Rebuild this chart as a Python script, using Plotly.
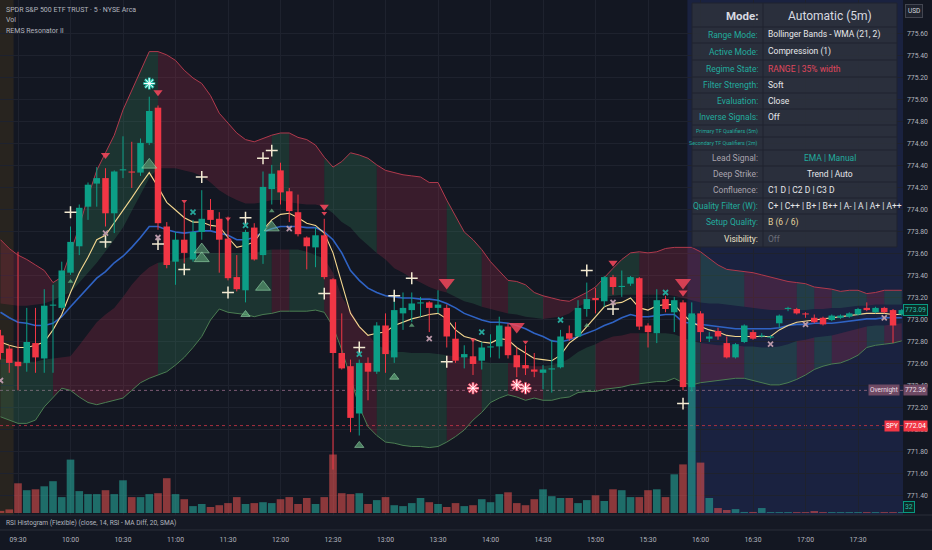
import pandas as pd
import plotly.graph_objects as go

# SPY 5-minute bars, 09:20 .. 17:55 (first two bars are pre-market)
open_ = [
    772.86, 772.74, 772.62, 772.61, 772.79, 772.65, 773.13, 773.11, 773.43, 773.67,
    774.03, 774.24, 774.29, 773.97, 774.36, 774.35, 774.34, 774.61, 774.93, 773.85,
    773.53, 773.73, 773.55, 773.80, 774.00, 773.92, 773.74, 773.39, 773.27, 773.84,
    773.59, 774.19, 774.36, 774.17, 773.98, 773.75, 773.66, 773.77, 773.37, 772.70,
    772.58, 772.15, 772.61, 772.53, 772.95, 772.66, 773.06, 773.09, 773.15, 773.16,
    773.11, 773.11, 772.83, 772.66, 772.67, 772.63, 772.75, 772.76, 772.94, 772.68,
    772.59, 772.55, 772.52, 772.55, 772.57, 772.88, 772.85, 773.10, 773.20, 773.17,
    773.39, 773.30, 773.33, 773.38, 772.95, 772.88, 773.19, 773.07, 773.16, 772.39,
    773.06, 772.83, 772.90, 772.79, 772.66, 772.80, 772.89, 772.85, 772.84, 772.97,
    773.10, 773.10, 773.06, 773.02, 773.02, 773.00, 773.02, 773.03, 773.05, 773.11,
    773.07, 773.11, 773.09, 773.05,
]
high = [
    772.91, 772.77, 773.62, 773.11, 773.11, 773.28, 773.32, 773.53, 773.85, 774.05,
    774.25, 774.39, 774.38, 774.36, 774.67, 774.62, 774.65, 775.03, 774.95, 773.89,
    773.80, 774.06, 773.91, 774.18, 774.10, 773.98, 773.94, 773.59, 773.82, 773.88,
    774.35, 774.41, 774.43, 774.20, 774.14, 773.76, 773.84, 773.92, 773.38, 773.06,
    772.64, 772.64, 772.66, 772.98, 773.06, 773.25, 773.25, 773.25, 773.21, 773.17,
    773.27, 773.14, 772.98, 772.77, 772.82, 772.80, 772.87, 773.03, 772.97, 772.75,
    772.77, 772.70, 772.59, 772.82, 772.91, 772.95, 773.18, 773.34, 773.29, 773.40,
    773.41, 773.45, 773.40, 773.39, 772.97, 773.28, 773.22, 773.21, 773.18, 773.16,
    773.08, 772.89, 772.93, 772.85, 772.79, 772.96, 772.91, 772.88, 772.86, 773.05,
    773.12, 773.11, 773.07, 773.05, 773.03, 773.05, 773.05, 773.07, 773.11, 773.16,
    773.12, 773.12, 773.10, 773.10,
]
low = [
    772.64, 772.52, 772.36, 772.53, 772.52, 772.52, 772.52, 773.09, 773.41, 773.59,
    773.91, 774.03, 773.85, 773.79, 774.29, 774.20, 774.31, 774.59, 773.82, 773.47,
    773.32, 773.52, 773.53, 773.73, 773.82, 773.43, 773.36, 773.26, 773.16, 773.54,
    773.51, 774.05, 774.05, 773.89, 773.76, 773.46, 773.48, 773.37, 771.64, 772.55,
    771.98, 771.95, 772.27, 772.51, 772.52, 772.61, 772.91, 772.98, 773.03, 772.89,
    773.06, 772.75, 772.61, 772.56, 772.50, 772.55, 772.66, 772.65, 772.65, 772.48,
    772.50, 772.48, 772.37, 772.34, 772.56, 772.81, 772.85, 773.03, 773.06, 773.12,
    773.23, 773.21, 773.31, 772.91, 772.75, 772.79, 773.07, 772.89, 772.36, 772.35,
    772.80, 772.80, 772.82, 772.65, 772.65, 772.79, 772.82, 772.84, 772.83, 772.93,
    773.08, 773.05, 773.02, 772.97, 772.95, 772.99, 773.01, 773.02, 773.04, 773.08,
    773.06, 773.06, 772.79, 773.04,
]
close = [
    772.70, 772.61, 772.58, 772.80, 772.66, 773.13, 773.14, 773.45, 773.71, 774.02,
    774.23, 774.29, 773.97, 774.35, 774.37, 774.34, 774.61, 774.90, 773.88, 773.50,
    773.73, 773.61, 773.80, 773.92, 773.91, 773.73, 773.38, 773.28, 773.80, 773.55,
    774.21, 774.33, 774.16, 773.99, 773.78, 773.67, 773.77, 773.39, 772.70, 772.56,
    772.11, 772.61, 772.53, 772.95, 772.69, 773.09, 773.11, 773.15, 773.16, 773.11,
    773.14, 772.85, 772.63, 772.69, 772.60, 772.75, 772.76, 772.95, 772.68, 772.57,
    772.56, 772.53, 772.55, 772.56, 772.85, 772.83, 773.11, 773.19, 773.18, 773.39,
    773.30, 773.31, 773.39, 772.94, 772.89, 773.18, 773.10, 773.18, 772.39, 773.06,
    772.89, 772.85, 772.85, 772.66, 772.78, 772.95, 772.83, 772.86, 772.85, 773.04,
    773.11, 773.06, 773.05, 772.98, 772.96, 773.04, 773.04, 773.06, 773.10, 773.09,
    773.11, 773.07, 772.95, 773.09,
]
volume = [
    70, 120, 990, 760, 790, 890, 1060, 530, 1780, 730,
    630, 630, 760, 630, 1090, 530, 530, 630, 660, 1160,
    630, 460, 230, 300, 200, 260, 330, 530, 300, 330,
    360, 330, 460, 530, 300, 500, 300, 530, 1950, 660,
    630, 660, 300, 430, 530, 260, 230, 330, 500, 360,
    300, 200, 330, 230, 260, 460, 360, 630, 690, 330,
    260, 460, 790, 560, 500, 500, 330, 430, 590, 400,
    790, 760, 530, 530, 760, 790, 530, 1290, 1620, 6600,
    1680, 500, 165, 100, 130, 35, 35, 165, 30, 30,
    30, 30, 30, 65, 30, 30, 30, 30, 30, 30,
    30, 30, 30, 32,
]

# Bollinger Bands (WMA 21, 2) and the inner compression channel
bb_upper = [
    773.73, 773.65, 773.59, 773.55, 773.50, 773.45, 773.34, 773.39, 773.61, 773.85,
    774.12, 774.36, 774.52, 774.68, 774.91, 775.09, 775.27, 775.44, 775.44, 775.41,
    775.36, 775.27, 775.20, 775.15, 775.04, 774.88, 774.79, 774.70, 774.64, 774.62,
    774.65, 774.68, 774.70, 774.70, 774.66, 774.64, 774.59, 774.48, 774.39, 774.44,
    774.52, 774.50, 774.47, 774.41, 774.36, 774.34, 774.32, 774.31, 774.30, 774.25,
    774.25, 774.09, 773.94, 773.80, 773.73, 773.64, 773.53, 773.44, 773.36, 773.35,
    773.32, 773.25, 773.22, 773.20, 773.18, 773.17, 773.21, 773.25, 773.30, 773.39,
    773.47, 773.55, 773.61, 773.62, 773.61, 773.62, 773.65, 773.66, 773.66, 773.66,
    773.62, 773.56, 773.50, 773.46, 773.45, 773.44, 773.43, 773.41, 773.39, 773.37,
    773.35, 773.34, 773.33, 773.30, 773.29, 773.28, 773.26, 773.27, 773.27, 773.24,
    773.25, 773.27, 773.27, 773.27,
]
bb_lower = [
    772.12, 772.09, 772.06, 772.06, 772.09, 772.21, 772.30, 772.38, 772.36, 772.30,
    772.25, 772.23, 772.25, 772.27, 772.29, 772.36, 772.43, 772.47, 772.50, 772.53,
    772.59, 772.66, 772.75, 772.85, 773.00, 773.10, 773.07, 773.06, 773.05, 773.03,
    773.05, 773.06, 773.08, 773.08, 773.08, 773.08, 773.09, 773.07, 772.94, 772.73,
    772.48, 772.21, 772.03, 771.95, 771.89, 771.88, 771.86, 771.85, 771.85, 771.84,
    771.85, 771.89, 771.94, 772.00, 772.09, 772.16, 772.25, 772.29, 772.32, 772.30,
    772.27, 772.29, 772.27, 772.27, 772.29, 772.30, 772.34, 772.35, 772.35, 772.37,
    772.38, 772.39, 772.41, 772.42, 772.43, 772.44, 772.44, 772.47, 772.43, 772.41,
    772.43, 772.44, 772.45, 772.46, 772.47, 772.47, 772.45, 772.43, 772.41, 772.41,
    772.43, 772.46, 772.50, 772.55, 772.58, 772.60, 772.61, 772.64, 772.68, 772.75,
    772.77, 772.78, 772.79, 772.81,
]
inner_upper = [
    773.15, 773.14, 773.13, 773.13, 773.14, 773.15, 773.18, 773.22, 773.25, 773.34,
    773.43, 773.52, 773.62, 773.73, 773.84, 774.00, 774.14, 774.29, 774.38, 774.38,
    774.38, 774.36, 774.34, 774.31, 774.25, 774.18, 774.13, 774.09, 774.06, 774.06,
    774.07, 774.09, 774.09, 774.07, 774.06, 774.05, 774.05, 774.03, 773.97, 773.89,
    773.84, 773.75, 773.68, 773.61, 773.55, 773.47, 773.43, 773.38, 773.34, 773.30,
    773.27, 773.25, 773.21, 773.17, 773.15, 773.12, 773.10, 773.08, 773.06, 773.05,
    773.03, 773.02, 773.01, 773.02, 773.03, 773.06, 773.12, 773.16, 773.19, 773.21,
    773.22, 773.23, 773.23, 773.23, 773.23, 773.23, 773.23, 773.22, 773.20, 773.18,
    773.16, 773.15, 773.15, 773.14, 773.13, 773.12, 773.11, 773.10, 773.09, 773.09,
    773.09, 773.09, 773.09, 773.10, 773.10, 773.11, 773.11, 773.12, 773.13, 773.13,
    773.14, 773.14, 773.14, 773.14,
]
inner_lower = [
    772.65, 772.64, 772.62, 772.62, 772.62, 772.64, 772.65, 772.66, 772.67, 772.77,
    772.88, 772.98, 773.05, 773.11, 773.21, 773.32, 773.41, 773.48, 773.52, 773.53,
    773.55, 773.56, 773.58, 773.60, 773.61, 773.61, 773.61, 773.61, 773.61, 773.61,
    773.63, 773.64, 773.64, 773.64, 773.64, 773.62, 773.59, 773.56, 773.43, 773.21,
    773.09, 772.95, 772.87, 772.77, 772.74, 772.71, 772.71, 772.70, 772.70, 772.70,
    772.69, 772.68, 772.67, 772.66, 772.64, 772.62, 772.61, 772.61, 772.61, 772.60,
    772.59, 772.58, 772.58, 772.59, 772.61, 772.65, 772.71, 772.75, 772.78, 772.82,
    772.85, 772.86, 772.88, 772.88, 772.88, 772.88, 772.88, 772.87, 772.84, 772.81,
    772.79, 772.78, 772.77, 772.77, 772.77, 772.76, 772.76, 772.75, 772.75, 772.76,
    772.78, 772.81, 772.82, 772.84, 772.85, 772.86, 772.88, 772.90, 772.92, 772.94,
    772.95, 772.95, 772.96, 772.97,
]
wma_line = [
    773.07, 773.02, 772.98, 772.97, 772.95, 772.95, 772.97, 773.03, 773.12, 773.21,
    773.30, 773.38, 773.44, 773.52, 773.58, 773.66, 773.75, 773.85, 773.85, 773.82,
    773.80, 773.79, 773.80, 773.81, 773.81, 773.79, 773.77, 773.73, 773.73, 773.75,
    773.80, 773.83, 773.85, 773.85, 773.85, 773.84, 773.84, 773.80, 773.73, 773.61,
    773.45, 773.36, 773.29, 773.25, 773.22, 773.21, 773.20, 773.20, 773.19, 773.19,
    773.18, 773.15, 773.11, 773.06, 773.03, 773.00, 772.98, 772.98, 772.97, 772.95,
    772.92, 772.88, 772.85, 772.81, 772.80, 772.82, 772.85, 772.88, 772.91, 772.95,
    772.98, 773.02, 773.05, 773.03, 773.03, 773.04, 773.05, 773.05, 772.98, 772.97,
    772.96, 772.95, 772.94, 772.93, 772.92, 772.92, 772.92, 772.92, 772.92, 772.93,
    772.95, 772.96, 772.96, 772.97, 772.97, 772.97, 772.98, 772.99, 773.00, 773.01,
    773.01, 773.02, 773.02, 773.02,
]
ema_line = [
    772.80, 772.77, 772.75, 772.75, 772.77, 772.80, 772.91, 773.05, 773.25, 773.43,
    773.57, 773.73, 773.77, 773.88, 773.99, 774.11, 774.23, 774.34, 774.21, 774.07,
    774.00, 773.93, 773.89, 773.89, 773.86, 773.85, 773.75, 773.66, 773.68, 773.71,
    773.82, 773.91, 773.96, 773.97, 773.93, 773.88, 773.86, 773.79, 773.61, 773.34,
    773.06, 772.94, 772.86, 772.88, 772.89, 772.95, 772.98, 773.01, 773.03, 773.05,
    773.06, 773.01, 772.91, 772.85, 772.83, 772.80, 772.79, 772.83, 772.82, 772.75,
    772.70, 772.65, 772.64, 772.63, 772.68, 772.79, 772.85, 772.94, 773.03, 773.12,
    773.15, 773.16, 773.20, 773.11, 773.09, 773.13, 773.14, 773.14, 773.05, 772.98,
    772.94, 772.91, 772.89, 772.86, 772.85, 772.85, 772.85, 772.85, 772.85, 772.91,
    772.95, 772.98, 772.99, 773.00, 773.01, 773.02, 773.03, 773.04, 773.05, 773.06,
    773.06, 773.06, 773.05, 773.05,
]
# 1 = green above / red below, 0 = red above / green below (segment ending at bar)
regime = [
    0, 0, 0, 0, 0, 0, 0, 1, 1, 1,
    1, 1, 1, 1, 1, 1, 1, 1, 1, 0,
    0, 0, 0, 0, 0, 0, 0, 0, 0, 0,
    0, 0, 1, 1, 0, 0, 0, 0, 1, 1,
    1, 1, 1, 1, 0, 0, 0, 0, 0, 0,
    0, 0, 1, 1, 1, 1, 0, 0, 0, 1,
    1, 1, 1, 0, 0, 0, 0, 0, 0, 1,
    1, 1, 1, 1, 0, 0, 0, 0, 0, 0,
    0, 1, 1, 1, 1, 1, 0, 0, 0, 0,
    0, 0, 1, 1, 0, 0, 1, 1, 1, 1,
    0, 0, 1, 1,
]

# signal markers (bar time, price)
cross_time = ["10:00", "10:20", "10:50", "11:05", "11:15", "11:30", "11:40", "11:50", "11:55",
              "12:25", "12:45", "13:05", "13:15", "13:35", "14:55", "15:10", "15:50"]
cross_price = [773.98, 773.71, 773.69, 773.46, 774.30, 773.25, 773.93, 774.47, 774.54,
               773.24, 772.75, 773.22, 773.38, 772.62, 773.45, 773.10, 772.24]
xmark_time = ["09:20", "10:20", "10:50", "12:05", "13:25", "15:10", "16:40", "17:00", "17:45"]
xmark_price = [772.45, 773.79, 773.75, 773.83, 772.83, 773.16, 772.78, 772.96, 773.02]
xteal_time = ["11:10", "11:40", "12:45", "13:55", "14:40", "15:40"]
xteal_price = [773.98, 773.86, 772.69, 772.89, 773.00, 773.25]
sell_major_time = ["13:35", "14:15", "15:50"]
sell_major_price = [773.34, 772.94, 773.34]
sell_time = ["10:20", "10:50", "12:25", "15:10", "15:50"]
sell_price = [774.50, 775.07, 774.03, 773.52, 773.25]
sell_minor_time = ["11:05", "11:30", "12:25", "13:50", "14:20"]
sell_minor_price = [774.08, 773.92, 773.97, 772.82, 772.80]
buy_major_time = ["10:45", "11:15", "11:15", "11:50", "11:55"]
buy_major_price = [774.41, 773.64, 773.56, 773.30, 773.84]
buy_time = ["11:40", "12:45", "13:05"]
buy_price = [773.05, 771.86, 772.48]
buy_minor_time = ["10:00", "11:55", "13:15", "14:55"]
buy_minor_price = [773.35, 773.99, 772.95, 772.95]
star_up_time = ["10:45"]
star_up_price = [775.15]
star_dn_time = ["13:50", "14:15", "14:20"]
star_dn_price = [772.38, 772.41, 772.38]

overnight_level = 772.36
spy_level = 772.04
price_ticks = [round(771.4 + 0.2 * i, 2) for i in range(22)]

DAY = "2025-01-02"
FONT = "Roboto, sans-serif"
BG = "#131722"
GRID = "#1e222e"
UP = "#0c9e86"
DOWN = "#f23645"
GREEN_FILL = "rgba(67,160,110,0.21)"
RED_FILL = "rgba(195,48,80,0.22)"

W, PLOT_W, PLOT_H = 932, 903, 530
PANE_BOTTOM = 15 / PLOT_H


def at(hhmm):
    return pd.Timestamp(f"{DAY} {hhmm}")


def px(x):
    return x / PLOT_W


def py(y):
    return 1 - y / PLOT_H


times = pd.date_range(at("09:20"), periods=len(close), freq="5min")
bar = pd.Timedelta(minutes=5)
x_left = at("09:30") - 2.057 * bar
x_right = at("09:30") + 101.14 * bar

fig = go.Figure()

# volume (base axis, drawn under the price overlay)
fig.add_trace(go.Bar(
    x=times, y=volume, yaxis="y", width=0.87 * 300000,
    marker=dict(color=["rgba(38,166,154,0.6)" if c >= o else "rgba(239,83,80,0.55)"
                       for o, c in zip(open_, close)], line=dict(width=0)),
    hoverinfo="skip",
))

# band zones coloured by regime
start = 1
for i in range(2, len(regime) + 1):
    if i == len(regime) or regime[i] != regime[start]:
        idx = list(range(start - 1, i))
        xs = [times[j] for j in idx]
        up_col = GREEN_FILL if regime[start] else RED_FILL
        lo_col = RED_FILL if regime[start] else GREEN_FILL
        fig.add_trace(go.Scatter(
            x=xs + xs[::-1], y=[bb_upper[j] for j in idx] + [inner_upper[j] for j in idx][::-1],
            yaxis="y2", mode="lines", line=dict(width=0), fill="toself", fillcolor=up_col,
            hoverinfo="skip"))
        fig.add_trace(go.Scatter(
            x=xs + xs[::-1], y=[inner_lower[j] for j in idx] + [bb_lower[j] for j in idx][::-1],
            yaxis="y2", mode="lines", line=dict(width=0), fill="toself", fillcolor=lo_col,
            hoverinfo="skip"))
        start = i

fig.add_trace(go.Scatter(x=times, y=bb_upper, yaxis="y2", mode="lines",
                         line=dict(color="#b0394c", width=1), hoverinfo="skip"))
fig.add_trace(go.Scatter(x=times, y=bb_lower, yaxis="y2", mode="lines",
                         line=dict(color="#4b7d52", width=1), hoverinfo="skip"))
fig.add_trace(go.Scatter(x=times, y=wma_line, yaxis="y2", mode="lines",
                         line=dict(color="#2f63c4", width=1.6), hoverinfo="skip"))
fig.add_trace(go.Scatter(x=times, y=ema_line, yaxis="y2", mode="lines",
                         line=dict(color="#f5d890", width=1.1), hoverinfo="skip"))

# candles: wicks then bodies
for is_up, col in [(True, UP), (False, DOWN)]:
    wx, wy, bx, by = [], [], [], []
    for t, o, h, l, c in zip(times, open_, high, low, close):
        if (c >= o) != is_up:
            continue
        wx += [t, t, None]
        wy += [l, h, None]
        lo_b, hi_b = min(o, c), max(o, c)
        if hi_b - lo_b < 0.01:
            mid = (hi_b + lo_b) / 2
            lo_b, hi_b = mid - 0.005, mid + 0.005
        bx += [t, t, None]
        by += [lo_b, hi_b, None]
    fig.add_trace(go.Scatter(x=wx, y=wy, yaxis="y2", mode="lines",
                             line=dict(color=col, width=1), hoverinfo="skip"))
    fig.add_trace(go.Scatter(x=bx, y=by, yaxis="y2", mode="lines",
                             line=dict(color=col, width=6.5), hoverinfo="skip"))


def marks(tlist, plist, symbol, size, color, lw=0, lcol=None):
    fig.add_trace(go.Scatter(
        x=[at(t) for t in tlist], y=plist, yaxis="y2", mode="markers",
        marker=dict(symbol=symbol, size=size, color=color,
                    line=dict(width=lw, color=lcol or color)),
        hoverinfo="skip"))


marks(buy_major_time, buy_major_price, "triangle-up", 13, "rgba(110,190,135,0.5)", 1, "rgba(150,215,170,0.6)")
marks(buy_time, buy_price, "triangle-up", 8, "rgba(110,190,135,0.6)", 1, "rgba(150,215,170,0.6)")
marks(buy_minor_time, buy_minor_price, "triangle-up", 5, "rgba(110,190,135,0.7)")
marks(sell_major_time, sell_major_price, "triangle-down", 14, "rgba(240,70,90,0.85)")
marks(sell_time, sell_price, "triangle-down", 8, "rgba(240,70,90,0.9)")
marks(sell_minor_time, sell_minor_price, "triangle-down", 5, "rgba(240,70,90,0.9)")
marks(cross_time, cross_price, "cross-thin", 8.5, "#f3ead2", 1.5)
marks(xmark_time, xmark_price, "x-thin", 5, "#b897a8", 1.8)
marks(xteal_time, xteal_price, "x-thin", 5, "#26a69a", 1.8)
marks(star_up_time, star_up_price, "asterisk-open", 10, "#26c6b0", 2.6)
marks(star_up_time, star_up_price, "asterisk-open", 9, "#ffffff", 1)
marks(star_dn_time, star_dn_price, "asterisk-open", 10, "#f0506a", 2.6)
marks(star_dn_time, star_dn_price, "asterisk-open", 9, "#ffffff", 1)

shapes = [
    dict(type="rect", xref="x", yref="y domain", x0=x_left, x1=at("09:27:30"), y0=0, y1=1,
         fillcolor="#28241f", line=dict(width=0), layer="below"),
    dict(type="rect", xref="x", yref="y domain", x0=at("15:52:30"), x1=x_right, y0=0, y1=1,
         fillcolor="#1a2240", line=dict(width=0), layer="below"),
    dict(type="line", xref="paper", yref="y2", x0=0, x1=1, y0=overnight_level, y1=overnight_level,
         line=dict(color="#7d5a73", width=1, dash="dot"), layer="between"),
    dict(type="line", xref="paper", yref="y2", x0=0, x1=1, y0=spy_level, y1=spy_level,
         line=dict(color="#a8303f", width=1, dash="dot"), layer="between"),
    # indicator pane under the chart
    dict(type="rect", xref="paper", yref="paper", x0=0, x1=W / PLOT_W, y0=0, y1=PANE_BOTTOM,
         fillcolor="#151924", line=dict(width=0)),
    dict(type="line", xref="paper", yref="paper", x0=0, x1=W / PLOT_W, y0=PANE_BOTTOM, y1=PANE_BOTTOM,
         line=dict(color="#2a2e39", width=1)),
    dict(type="line", xref="paper", yref="paper", x0=0, x1=W / PLOT_W, y0=0, y1=0,
         line=dict(color="#2a2e39", width=1)),
]

# info table
tbl_l, tbl_r, tbl_mid = 692, 897, 763
row_edges = [3, 27, 43, 60, 77, 93, 109, 125, 137, 150, 166, 182, 198, 214, 231, 247]
shapes.append(dict(type="rect", xref="paper", yref="paper", x0=px(tbl_l), x1=px(tbl_r),
                   y0=py(row_edges[-1]), y1=py(row_edges[0]), fillcolor="rgba(44,48,60,0.94)",
                   line=dict(color="#1f232e", width=1)))
shapes.append(dict(type="line", xref="paper", yref="paper", x0=px(tbl_mid), x1=px(tbl_mid),
                   y0=py(row_edges[-1]), y1=py(row_edges[0]), line=dict(color="#1f232e", width=1)))
for e in row_edges[1:-1]:
    shapes.append(dict(type="line", xref="paper", yref="paper", x0=px(tbl_l), x1=px(tbl_r),
                       y0=py(e), y1=py(e), line=dict(color="#1f232e", width=1)))

TEAL, GRAY, WHITE = "#22ab9c", "#a9a3ad", "#e6e7ea"
table_rows = [
    ("Range Mode:", "Bollinger Bands - WMA (21, 2)", TEAL, WHITE, "left"),
    ("Active Mode:", "Compression (1)", TEAL, WHITE, "left"),
    ("Regime State:", "RANGE | 35% width", TEAL, "#e0475c", "left"),
    ("Filter Strength:", "Soft", TEAL, WHITE, "left"),
    ("Evaluation:", "Close", TEAL, WHITE, "left"),
    ("Inverse Signals:", "Off", TEAL, WHITE, "left"),
    ("Primary TF Qualifiers (5m)", "", TEAL, WHITE, "left"),
    ("Secondary TF Qualifiers (2m)", "", TEAL, WHITE, "left"),
    ("Lead Signal:", "EMA | Manual", GRAY, TEAL, "center"),
    ("Deep Strike:", "Trend | Auto", GRAY, WHITE, "center"),
    ("Confluence:", "C1 D | C2 D | C3 D", GRAY, WHITE, "left"),
    ("Quality Filter (W):", "C+ | C++ | B+ | B++ | A- | A | A+ | A++", TEAL, WHITE, "left"),
    ("Setup Quality:", "B (6 / 6)", TEAL, "#e3d39c", "left"),
    ("Visibility:", "Off", "#ece3c8", "#6c6f7a", "left"),
]

ann = [
    dict(x=px(760), y=py(16), text="<b>Mode:</b>", xanchor="right", font=dict(size=11.5, color="#d8dae0")),
    dict(x=px(830), y=py(16), text="Automatic (5m)", xanchor="center", font=dict(size=12, color="#d8dae0")),
]
for r, (lab, val, lc, vc, align) in enumerate(table_rows):
    yc = (row_edges[r + 1] + row_edges[r + 2]) / 2
    small = "Qualifiers" in lab
    ann.append(dict(x=px(760), y=py(yc), text=lab, xanchor="right",
                    font=dict(size=5.3 if small else 8.5, color=lc)))
    if val:
        ann.append(dict(x=px(830 if align == "center" else 766), y=py(yc), text=val,
                        xanchor=align, font=dict(size=8.5, color=vc)))

# chart legend and pane title
for yy, txt in [(10, "SPDR S&P 500 ETF TRUST · 5 · NYSE Arca"), (20, "Vol"), (31, "REMS Resonator II")]:
    ann.append(dict(x=px(4), y=py(yy), text=txt, xanchor="left", font=dict(size=7, color="#b2b5be")))
ann.append(dict(x=px(4), y=py(523), text="RSI Histogram (Flexible) (close, 14, RSI - MA Diff, 20, SMA)",
                xanchor="left", font=dict(size=6.6, color="#b2b5be")))

# price-scale labels
ann += [
    dict(x=1, y=close[-1], yref="y2", text="773.09", xanchor="left", xshift=0,
         bgcolor="#0b2b27", bordercolor="#089981", borderwidth=1, borderpad=1,
         font=dict(size=6.8, color="#2bbfa9")),
    dict(x=1, y=overnight_level, yref="y2", text="Overnight", xanchor="right", xshift=-3,
         bgcolor="#6f4a64", borderpad=1, font=dict(size=6.5, color="#ecdfe7")),
    dict(x=1, y=overnight_level, yref="y2", text=f"{overnight_level:.2f}", xanchor="left", xshift=0,
         bgcolor="#6f4a64", borderpad=1, font=dict(size=6.8, color="#ecdfe7")),
    dict(x=1, y=spy_level, yref="y2", text="SPY", xanchor="right", xshift=-3,
         bgcolor="#f23645", borderpad=1, font=dict(size=6.5, color="#ffffff")),
    dict(x=1, y=spy_level, yref="y2", text=f"{spy_level:.2f}", xanchor="left", xshift=0,
         bgcolor="#f23645", borderpad=1, font=dict(size=6.8, color="#ffffff")),
    dict(x=1, y=py(507), text=str(volume[-1]), xanchor="left", xshift=0,
         bgcolor="#0b2b27", bordercolor="#089981", borderwidth=1, borderpad=1,
         font=dict(size=6.8, color="#2bbfa9")),
    dict(x=1, y=py(11), text="USD", xanchor="left", xshift=2,
         bgcolor="#1e222d", bordercolor="#434651", borderwidth=1, borderpad=2,
         font=dict(size=6.5, color="#d1d4dc")),
]
for a in ann:
    a.setdefault("xref", "paper")
    a.setdefault("yref", "paper")
    a.setdefault("yanchor", "middle")
    a["showarrow"] = False
    a["font"].setdefault("family", FONT)

vol_px = 0.03  # pixels per volume unit
fig.update_layout(
    width=W, height=550,
    margin=dict(l=0, r=W - PLOT_W, t=0, b=550 - PLOT_H),
    paper_bgcolor=BG, plot_bgcolor=BG,
    showlegend=False, barmode="overlay",
    font=dict(family=FONT, color="#b2b5be", size=7),
    shapes=shapes, annotations=ann,
    xaxis=dict(type="date", range=[x_left, x_right], tickformat="%H:%M", dtick=1800000,
               tick0=at("09:30"), showgrid=True, gridcolor=GRID, zeroline=False, ticks="",
               anchor="free", position=0, ticklabelstandoff=4,
               tickfont=dict(size=6.8, color="#b2b5be")),
    yaxis=dict(domain=[PANE_BOTTOM, 1], range=[-2 / vol_px, 513 / vol_px], visible=False,
               showgrid=False, fixedrange=True),
    yaxis2=dict(domain=[PANE_BOTTOM, 1], overlaying="y", side="right",
                range=[775.909 - 515 / 110, 775.909], tickvals=price_ticks, tickformat=".2f",
                showgrid=True, gridcolor=GRID, zeroline=False, ticks="", ticklabelstandoff=3,
                tickfont=dict(size=6.8, color="#b2b5be")),
)

fig.write_html("out.html", config={"displayModeBar": False},
               post_script="document.body.style.margin='0';")
